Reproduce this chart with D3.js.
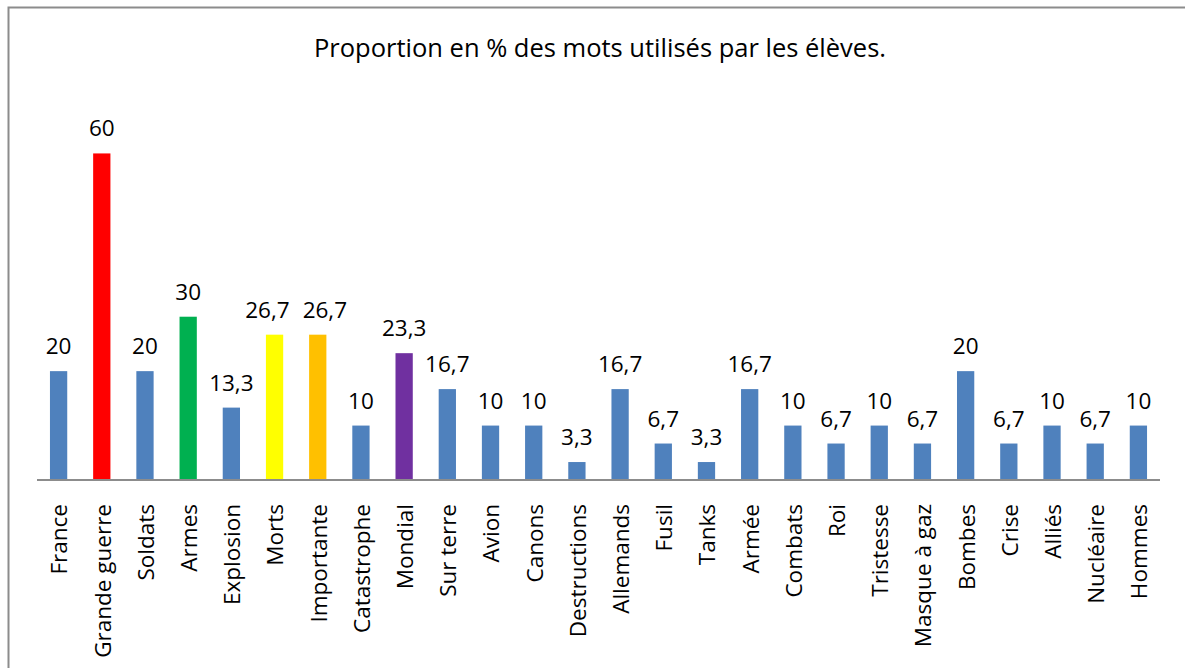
<html lang="fr">
<head>
<meta charset="UTF-8">
<title>Proportion des mots</title>
<script src="https://cdn.jsdelivr.net/npm/d3@7"></script>
<style>
  body { margin: 0; background: #fff; }
  svg { display: block; }
  text { font-family: "Open Sans", sans-serif; fill: #000; }
</style>
</head>
<body>
<svg id="chart"></svg>
<script>
var categories = ["France", "Grande guerre", "Soldats", "Armes", "Explosion", "Morts",
  "Importante", "Catastrophe", "Mondial", "Sur terre", "Avion", "Canons", "Destructions",
  "Allemands", "Fusil", "Tanks", "Armée", "Combats", "Roi", "Tristesse", "Masque à gaz",
  "Bombes", "Crise", "Alliés", "Nucléaire", "Hommes"];
var values = [20, 60, 20, 30, 13.3, 26.7, 26.7, 10, 23.3, 16.7, 10, 10, 3.3,
  16.7, 6.7, 3.3, 16.7, 10, 6.7, 10, 6.7, 20, 6.7, 10, 6.7, 10];
// colours for the highlighted words, the rest use the default blue
var highlight = {
  "Grande guerre": "#FF0000",
  "Armes": "#00B050",
  "Morts": "#FFFF00",
  "Importante": "#FFC000",
  "Mondial": "#7030A0"
};

var width = 1185, height = 668;
var margin = { left: 37, right: 25, top: 99, base: 480 };

var svg = d3.select("#chart").attr("width", width).attr("height", height);

// chart area border (runs off the right and bottom)
svg.append("rect")
  .attr("x", 8.5).attr("y", 7.5)
  .attr("width", width + 20).attr("height", height + 20)
  .attr("fill", "none")
  .attr("stroke", "#8c8c8c")
  .attr("stroke-width", 2);

svg.append("text")
  .attr("x", 600).attr("y", 57)
  .attr("text-anchor", "middle")
  .style("font-size", "25.5px")
  .text("Proportion en % des mots utilisés par les élèves.");

var data = categories.map(function(c, i) { return { name: c, value: values[i] }; });

var x = d3.scaleBand()
  .domain(categories)
  .range([margin.left, width - margin.right])
  .paddingInner(0.6)
  .paddingOuter(0.3);

var y = d3.scaleLinear()
  .domain([0, 70])
  .range([margin.base, margin.top]);

svg.selectAll("rect.bar")
  .data(data)
  .enter()
  .append("rect")
  .attr("class", "bar")
  .attr("x", function(d) { return x(d.name); })
  .attr("y", function(d) { return y(d.value); })
  .attr("width", x.bandwidth())
  .attr("height", function(d) { return y(0) - y(d.value); })
  .attr("fill", function(d) { return highlight[d.name] || "#4F81BD"; });

var labels = svg.selectAll("text.val")
  .data(data)
  .enter()
  .append("text")
  .attr("class", "val")
  .attr("x", function(d) { return x(d.name) + x.bandwidth() / 2; })
  .attr("y", function(d) { return y(d.value) - 17; })
  .attr("text-anchor", "middle")
  .style("font-size", "22.5px")
  .text(function(d) { return String(d.value).replace(".", ","); });

// push apart neighbouring labels that would overlap (like Excel does)
var nodes = labels.nodes();
for (var i = 1; i < nodes.length; i++) {
  var a = nodes[i - 1], b = nodes[i];
  var ya = +a.getAttribute("y"), yb = +b.getAttribute("y");
  if (Math.abs(ya - yb) > 14) continue;
  var xa = +a.getAttribute("x"), xb = +b.getAttribute("x");
  var need = (a.getComputedTextLength() + b.getComputedTextLength()) / 2 + 13;
  if (xb - xa < need) {
    var shift = (need - (xb - xa)) / 2;
    a.setAttribute("x", xa - shift);
    b.setAttribute("x", xb + shift);
  }
}

var xAxis = d3.axisBottom(x).tickSize(0).tickPadding(0);
var gx = svg.append("g")
  .attr("transform", "translate(0," + margin.base + ")")
  .call(xAxis);
gx.select(".domain").attr("stroke", "#8c8c8c").attr("stroke-width", 2)
  .attr("d", "M" + margin.left + ",0H" + (width - margin.right));
gx.selectAll(".tick text")
  .attr("transform", "rotate(-90)")
  .attr("x", -24).attr("y", 1).attr("dy", "0.35em")
  .attr("text-anchor", "end")
  .style("font-family", "'Open Sans', sans-serif")
  .style("font-size", "22.5px")
  .attr("fill", "#000");
</script>
</body>
</html>
